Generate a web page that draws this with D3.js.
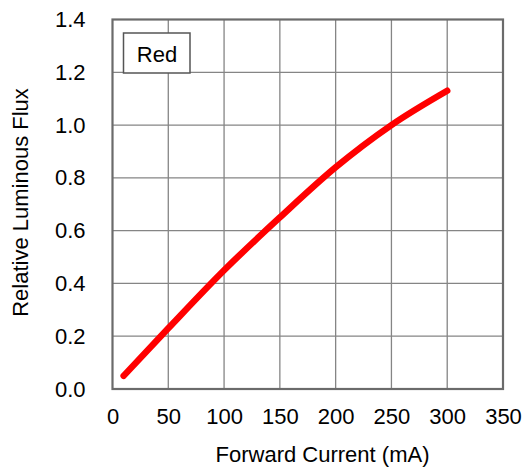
<!DOCTYPE html>
<html>
<head>
<meta charset="utf-8">
<script src="https://cdn.jsdelivr.net/npm/d3@7/dist/d3.min.js"></script>
<style>
  html, body { margin: 0; padding: 0; background: #fff; }
  svg { display: block; font-family: "Liberation Sans", Arial, sans-serif; }
</style>
</head>
<body>
<svg id="chart" width="524" height="470"></svg>
<script>
// Forward current (mA) vs relative luminous flux, red LED
const currents = [10, 50, 100, 150, 200, 250, 300];
const flux = [0.05, 0.23, 0.45, 0.65, 0.84, 1.0, 1.13];
const xTicks = [0, 50, 100, 150, 200, 250, 300, 350];
const yTicks = [0.0, 0.2, 0.4, 0.6, 0.8, 1.0, 1.2, 1.4];
const seriesLabel = "Red";
const xTitle = "Forward Current (mA)";
const yTitle = "Relative Luminous Flux";

const svg = d3.select("#chart");
const plotLeft = 112.5, plotRight = 503, plotTop = 19.5, plotBottom = 389;
const fontSize = 22;

const x = d3.scaleLinear().domain([0, 350]).range([plotLeft, plotRight]);
const y = d3.scaleLinear().domain([0, 1.4]).range([plotBottom, plotTop]);

// grid
const grid = svg.append("g").attr("stroke", "#858585").attr("stroke-width", 1.3);
grid.selectAll("line.v").data(xTicks.slice(1, -1)).join("line")
  .attr("class", "v")
  .attr("x1", d => x(d)).attr("x2", d => x(d))
  .attr("y1", plotTop).attr("y2", plotBottom);
grid.selectAll("line.h").data(yTicks.slice(1, -1)).join("line")
  .attr("class", "h")
  .attr("x1", plotLeft).attr("x2", plotRight)
  .attr("y1", d => y(d)).attr("y2", d => y(d));

// frame
svg.append("rect")
  .attr("x", plotLeft).attr("y", plotTop)
  .attr("width", plotRight - plotLeft).attr("height", plotBottom - plotTop)
  .attr("fill", "none").attr("stroke", "#6b6b6b").attr("stroke-width", 2.2);

// tick labels
const xAxis = d3.axisBottom(x).tickValues(xTicks).tickSize(0).tickPadding(0).tickFormat(d3.format("d"));
const gx = svg.append("g").attr("transform", `translate(0,${plotBottom + 19})`).call(xAxis);
gx.select(".domain").remove();
gx.selectAll("text").attr("font-size", fontSize).attr("fill", "#000")
  .attr("font-family", "Liberation Sans, Arial, sans-serif");

const yAxis = d3.axisLeft(y).tickValues(yTicks).tickSize(0).tickPadding(0).tickFormat(d3.format(".1f"));
const gy = svg.append("g").attr("transform", `translate(${plotLeft - 27},0)`).call(yAxis);
gy.select(".domain").remove();
gy.selectAll("text").attr("font-size", fontSize).attr("fill", "#000")
  .attr("font-family", "Liberation Sans, Arial, sans-serif");

// axis titles
svg.append("text")
  .attr("x", 322.5).attr("y", 462)
  .attr("text-anchor", "middle").attr("font-size", fontSize).attr("fill", "#000")
  .text(xTitle);
svg.append("text")
  .attr("transform", `translate(28,202.5) rotate(-90)`)
  .attr("text-anchor", "middle").attr("font-size", fontSize).attr("fill", "#000")
  .text(yTitle);

// curve
const line = d3.line().x((d, i) => x(currents[i])).y(d => y(d)).curve(d3.curveMonotoneX);
svg.append("path")
  .attr("d", line(flux))
  .attr("fill", "none").attr("stroke", "#ff0000").attr("stroke-width", 6.5)
  .attr("stroke-linecap", "round").attr("stroke-linejoin", "round");

// legend box
svg.append("rect")
  .attr("x", 123.5).attr("y", 33).attr("width", 66.5).attr("height", 40)
  .attr("fill", "#fff").attr("stroke", "#555").attr("stroke-width", 1.5);
svg.append("text")
  .attr("x", 157).attr("y", 62).attr("text-anchor", "middle")
  .attr("font-size", fontSize).attr("fill", "#000").text(seriesLabel);
</script>
</body>
</html>
